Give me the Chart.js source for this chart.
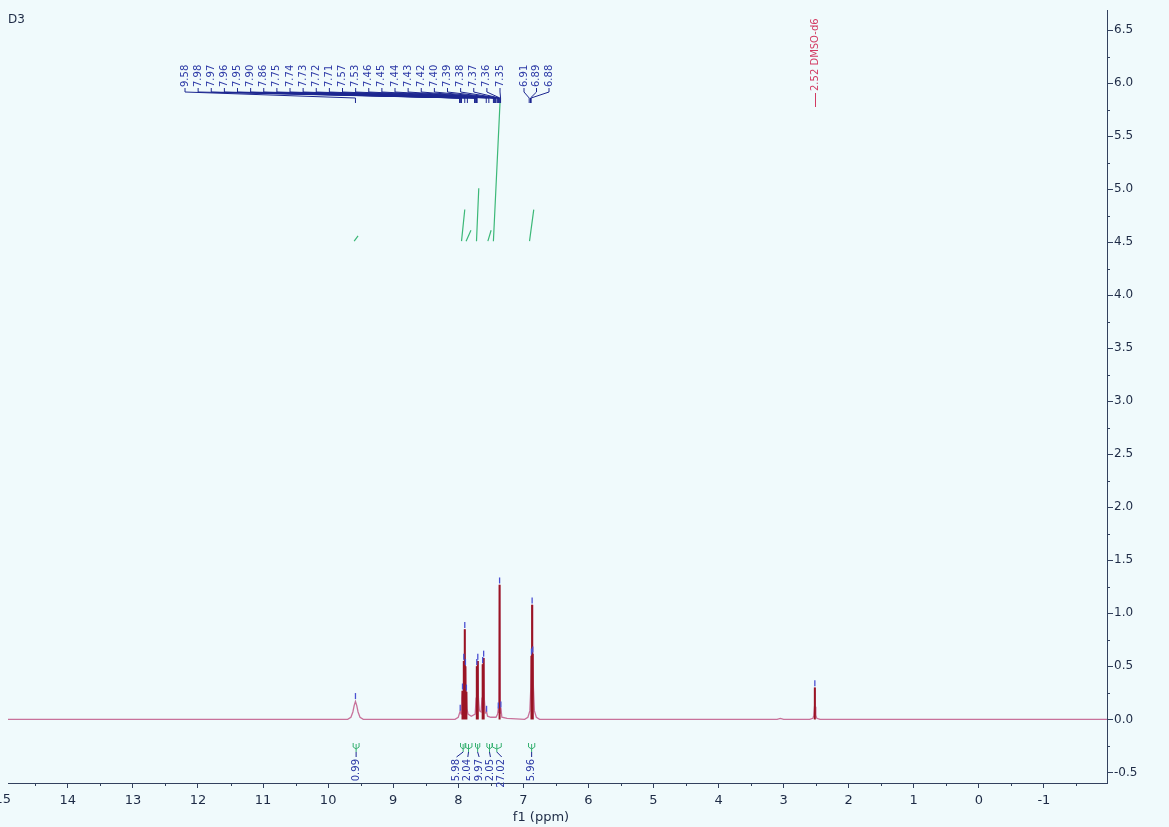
<!DOCTYPE html>
<html>
<head>
<meta charset="utf-8">
<script src="https://cdn.jsdelivr.net/npm/chart.js@4.4.1/dist/chart.umd.min.js"></script>
<style>
  html, body { margin: 0; padding: 0; background: #f0fafc; }
  #wrap { width: 1169px; height: 827px; }
</style>
</head>
<body>
<div id="wrap"><canvas id="myChart" width="1169" height="827"></canvas></div>
<script>
// spectrum trace (ppm, intensity)
var traceX = [14.92, 11.15, 9.70, 9.65, 9.62, 9.60, 9.58, 9.56, 9.54, 9.51, 9.46,
  8.05, 8.00, 7.97, 7.955, 7.945, 7.935, 7.925, 7.915, 7.905, 7.90, 7.895, 7.89, 7.88, 7.875, 7.865, 7.85,
  7.80, 7.74, 7.725, 7.715, 7.707, 7.70, 7.69, 7.675, 7.65, 7.635, 7.625, 7.617, 7.61, 7.60, 7.585,
  7.565, 7.55, 7.50, 7.42, 7.395, 7.385, 7.375, 7.365, 7.355, 7.345, 7.33, 7.25,
  6.98, 6.93, 6.90, 6.885, 6.875, 6.87, 6.865, 6.86, 6.855, 6.845, 6.83, 6.80, 6.75,
  3.10, 3.05, 3.00, 2.60, 2.55, 2.535, 2.525, 2.52, 2.515, 2.505, 2.49, 2.44, -1.97];
var traceY = [0, 0, 0, 0.02, 0.07, 0.13, 0.17, 0.13, 0.07, 0.02, 0,
  0, 0.02, 0.08, 0.05, 0.20, 0.27, 0.20, 0.55, 0.40, 0.85, 0.40, 0.50, 0.20, 0.26, 0.10, 0.05,
  0.03, 0.05, 0.20, 0.50, 0.30, 0.55, 0.20, 0.08, 0.07, 0.20, 0.52, 0.30, 0.58, 0.20, 0.06,
  0.07, 0.03, 0.02, 0.02, 0.05, 0.10, 0.06, 1.27, 0.06, 0.11, 0.02, 0.01,
  0, 0.02, 0.08, 0.30, 0.60, 0.45, 1.08, 0.45, 0.62, 0.30, 0.08, 0.02, 0,
  0, 0.01, 0, 0, 0.01, 0.04, 0.12, 0.30, 0.12, 0.04, 0.01, 0, 0];

// multiplet lines (dark red)
var lineX = [7.935, 7.915, 7.90, 7.89, 7.875, 7.715, 7.70, 7.625, 7.61, 7.365, 6.875, 6.865, 6.855, 2.52];
var lineY = [0.27, 0.55, 0.85, 0.50, 0.26, 0.50, 0.55, 0.52, 0.58, 1.27, 0.60, 1.08, 0.62, 0.30];

// peak-pick markers
var markX = [9.58, 7.97, 7.935, 7.915, 7.90, 7.89, 7.875, 7.715, 7.70, 7.625, 7.61, 7.565, 7.385, 7.365, 7.345, 6.875, 6.865, 6.855, 2.52];
var markY = [0.22, 0.11, 0.31, 0.59, 0.89, 0.54, 0.30, 0.54, 0.59, 0.56, 0.62, 0.10, 0.13, 1.31, 0.14, 0.64, 1.12, 0.66, 0.34];

var peakLabels = ['9.58', '7.98', '7.97', '7.96', '7.95', '7.90', '7.86', '7.75', '7.74', '7.73', '7.72', '7.71',
  '7.57', '7.53', '7.46', '7.45', '7.44', '7.43', '7.42', '7.40', '7.39', '7.38', '7.37', '7.36', '7.35',
  '6.91', '6.89', '6.88'];

var solventPpm = 2.52;
var solventLabel = '2.52 DMSO-d6';

// integrals
var intFrom = [9.60, 7.95, 7.88, 7.72, 7.545, 7.46, 6.905];
var intTo = [9.54, 7.90, 7.805, 7.685, 7.495, 7.355, 6.84];
var intValues = [0.99, 5.98, 2.04, 9.97, 2.05, 27.02, 5.96];

var xTicks = [14, 13, 12, 11, 10, 9, 8, 7, 6, 5, 4, 3, 2, 1, 0, -1];
var yTicks = [-0.5, 0, 0.5, 1, 1.5, 2, 2.5, 3, 3.5, 4, 4.5, 5, 5.5, 6, 6.5];

var intBase = 4.51;   // where integral curves start (y units)
var intScale = 0.05;  // y units per integral unit

var axisColor = '#33415e';
var textColor = '#1d2a45';
var labelBlue = '#2d3aa6';
var font = 'DejaVu Sans';

var traceData = traceX.map(function (x, i) { return {x: x, y: traceY[i]}; });

var stickData = [];
lineX.forEach(function (x, i) {
  stickData.push({x: x, y: 0}, {x: x, y: lineY[i]}, {x: x, y: null});
});

var markData = markX.map(function (x, i) { return {x: x, y: markY[i]}; });

var intData = [];
intFrom.forEach(function (f, i) {
  intData.push({x: f, y: intBase}, {x: intTo[i], y: intBase + intValues[i] * intScale}, {x: intTo[i], y: null});
});

function vText(ctx, txt, x, y, align) {
  ctx.save();
  ctx.translate(x, y);
  ctx.rotate(-Math.PI / 2);
  ctx.textAlign = align;
  ctx.textBaseline = 'middle';
  ctx.fillText(txt, 0, 0);
  ctx.restore();
}

const nmrDecor = {
  id: 'nmrDecor',
  beforeDraw(chart) {
    const ctx = chart.ctx;
    ctx.save();
    ctx.fillStyle = '#f0fafc';
    ctx.fillRect(0, 0, chart.width, chart.height);
    ctx.restore();
  },
  afterDraw(chart) {
    const ctx = chart.ctx;
    const xs = chart.scales.x, ys = chart.scales.y;
    ctx.save();

    // minor ticks
    ctx.strokeStyle = axisColor;
    ctx.lineWidth = 1;
    ctx.beginPath();
    for (let v = 14.5; v > -2; v -= 1) {
      const px = Math.round(xs.getPixelForValue(v)) + 0.5;
      ctx.moveTo(px, xs.top); ctx.lineTo(px, xs.top + 3);
    }
    for (let v = -0.25; v < 6.6; v += 0.5) {
      const py = Math.round(ys.getPixelForValue(v)) + 0.5;
      ctx.moveTo(ys.left, py); ctx.lineTo(ys.left + 3, py);
    }
    ctx.stroke();

    // clipped "15" at the left edge
    ctx.fillStyle = textColor;
    ctx.font = '13px "' + font + '"';
    ctx.textAlign = 'center';
    ctx.textBaseline = 'top';
    ctx.fillText('15', xs.getPixelForValue(15), xs.top + 10);

    // axis title
    ctx.fillText('f1 (ppm)', 541, 811);

    // sample name
    ctx.textAlign = 'left';
    ctx.textBaseline = 'middle';
    ctx.font = '12px "' + font + '"';
    ctx.fillText('D3', 8, 20);

    // peak labels with leaders
    ctx.font = '10px "' + font + '"';
    ctx.fillStyle = labelBlue;
    ctx.strokeStyle = '#1c2690';
    ctx.lineWidth = 1;
    peakLabels.forEach(function (t, i) {
      const lx = i < 25 ? 185 + i * 13.125 : 524 + (i - 25) * 12.5;
      const px = xs.getPixelForValue(parseFloat(t));
      vText(ctx, t, lx, 87, 'left');
      ctx.beginPath();
      ctx.moveTo(lx, 88); ctx.lineTo(lx, 92);
      ctx.lineTo(px, 98); ctx.lineTo(px, 103);
      ctx.stroke();
    });

    // solvent label
    const sx = Math.round(xs.getPixelForValue(solventPpm)) + 0.5;
    ctx.strokeStyle = '#d23a62';
    ctx.fillStyle = '#d23a62';
    ctx.beginPath();
    ctx.moveTo(sx, 107); ctx.lineTo(sx, 93);
    ctx.stroke();
    vText(ctx, solventLabel, sx, 91, 'left');

    // integral regions and values
    const centers = intFrom.map(function (f, i) {
      return (xs.getPixelForValue(f) + xs.getPixelForValue(intTo[i])) / 2;
    });
    const lab = centers.slice();
    for (let it = 0; it < 300; it++) {
      for (let i = 1; i < lab.length; i++) {
        const d = lab[i] - lab[i - 1];
        if (d < 11.3) { const s = (11.3 - d) / 2; lab[i] += s; lab[i - 1] -= s; }
      }
    }
    intFrom.forEach(function (f, i) {
      const x1 = xs.getPixelForValue(f), x2 = xs.getPixelForValue(intTo[i]), xc = centers[i];
      ctx.strokeStyle = '#35b070';
      ctx.beginPath();
      ctx.moveTo(x1 - 1, 743); ctx.lineTo(x1 - 1, 747); ctx.lineTo(xc, 749);
      ctx.lineTo(x2 + 1, 747); ctx.lineTo(x2 + 1, 743);
      ctx.moveTo(xc, 744); ctx.lineTo(xc, 752);
      ctx.stroke();
      ctx.strokeStyle = '#1c2690';
      ctx.beginPath();
      ctx.moveTo(xc, 752); ctx.lineTo(lab[i], 757);
      ctx.stroke();
      ctx.fillStyle = labelBlue;
      vText(ctx, intValues[i].toFixed(2), lab[i], 759, 'right');
    });

    ctx.restore();
  }
};

const config = {
  type: 'line',
  data: {
    datasets: [
      {
        label: 'peaks',
        data: markData,
        showLine: false,
        pointStyle: 'line',
        pointRotation: 90,
        pointRadius: 3,
        pointBorderColor: '#4b50d2',
        pointBorderWidth: 1.3
      },
      {
        label: 'lines',
        data: stickData,
        borderColor: '#9a1424',
        borderWidth: 2,
        pointRadius: 0,
        spanGaps: false
      },
      {
        label: 'spectrum',
        data: traceData,
        borderColor: '#c8719a',
        borderWidth: 1.3,
        pointRadius: 0,
        tension: 0
      },
      {
        label: 'integrals',
        data: intData,
        borderColor: '#3cb878',
        borderWidth: 1.2,
        pointRadius: 0,
        spanGaps: false
      }
    ]
  },
  options: {
    responsive: false,
    animation: false,
    layout: { padding: { left: 8, top: 10, right: 0, bottom: 0 } },
    plugins: {
      legend: { display: false },
      tooltip: { enabled: false }
    },
    scales: {
      x: {
        type: 'linear',
        reverse: true,
        min: -1.97,
        max: 14.92,
        afterBuildTicks: function (s) { s.ticks = xTicks.map(function (v) { return {value: v}; }); },
        afterFit: function (s) { s.height = 44; },
        grid: { drawOnChartArea: false, tickLength: 5, tickColor: axisColor },
        border: { color: axisColor },
        ticks: {
          padding: 5, color: textColor, maxRotation: 0, autoSkip: false,
          font: { family: font, size: 13 },
          callback: function (v) { return String(v); }
        }
      },
      y: {
        type: 'linear',
        position: 'right',
        min: -0.6,
        max: 6.69,
        afterBuildTicks: function (s) { s.ticks = yTicks.map(function (v) { return {value: v}; }); },
        afterFit: function (s) { s.width = 62; },
        grid: { drawOnChartArea: false, tickLength: 6, tickColor: axisColor },
        border: { color: axisColor },
        ticks: {
          padding: 1, color: textColor, autoSkip: false,
          font: { family: font, size: 12 },
          callback: function (v) { return v.toFixed(1); }
        }
      }
    }
  },
  plugins: [nmrDecor]
};

var myChart = new Chart(document.getElementById('myChart'), config);
</script>
</body>
</html>
